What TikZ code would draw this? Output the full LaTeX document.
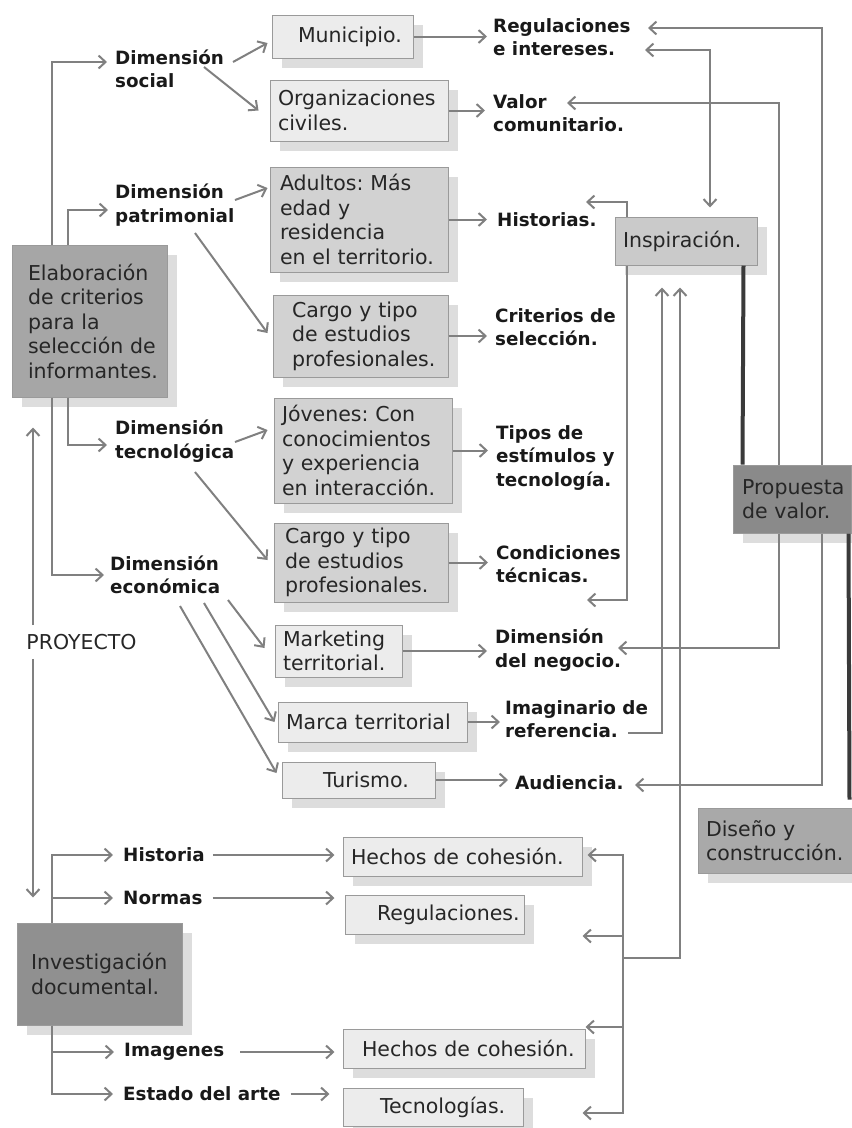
\documentclass[tikz,border=0pt]{standalone}
\usepackage{fontspec}
\setmainfont{DejaVu Sans}
\usetikzlibrary{arrows.meta,shadows,calc}
\hyphenpenalty=10000
\exhyphenpenalty=10000
\newcommand\boxfont{\fontsize{20.5}{24.5}\selectfont}
\newcommand\lblfont{\fontsize{18.3}{23.5}\selectfont\bfseries}
\definecolor{linec}{HTML}{808080}
\definecolor{thickc}{HTML}{3A3A3A}
\definecolor{lightf}{HTML}{ECECEC}
\definecolor{medf}{HTML}{D2D2D2}
\definecolor{inspf}{HTML}{CACACA}
\definecolor{elabf}{HTML}{A6A6A6}
\definecolor{invf}{HTML}{909090}
\definecolor{propf}{HTML}{8A8A8A}
\definecolor{disf}{HTML}{A9A9A9}
\definecolor{shadowc}{HTML}{DDDDDD}
\definecolor{borderc}{HTML}{9A9A9A}
\begin{document}
\begin{tikzpicture}[x=1pt,y=-1pt,
  bb/.tip={Straight Barb[length=7pt,width=13pt]},
  bx/.style={rectangle, draw=borderc, line width=1pt, align=left, inner ysep=0pt,
    font=\boxfont, text=black!85,
    drop shadow={shadow xshift=10pt, shadow yshift=-10pt, fill=shadowc, opacity=1}},
  lbl/.style={font=\lblfont, align=left, inner sep=0pt, anchor=west, text=black!90},
  rtxt/.style={font=\boxfont, inner xsep=2pt, inner ysep=9pt, text=black!85},
  conn/.style={draw=linec, line width=2pt, -bb},
  biconn/.style={draw=linec, line width=2pt, bb-bb},
  thickline/.style={draw=thickc, line width=4pt}]
\useasboundingbox (0,0) rectangle (852,1128);

% ---------- boxes ----------
\node[bx, fill=lightf, text width=89pt, inner xsep=26pt, minimum height=43pt] (mun) at (342.5,36.5) {Municipio.};
\node[bx, fill=lightf, text width=162pt, inner xsep=8pt, minimum height=61pt] (org) at (359,110.5) {Organizaciones\\civiles.};
\node[bx, fill=medf, text width=158pt, inner xsep=10pt, minimum height=105pt] (adu) at (359,219.5) {Adultos:~Más\\edad~y\\residencia\\en~el~territorio.};
\node[bx, fill=medf, text width=137pt, inner xsep=19pt, minimum height=82pt] (car1) at (360.5,336) {Cargo~y~tipo\\de~estudios\\profesionales.};
\node[bx, fill=medf, text width=162pt, inner xsep=8pt, minimum height=105pt] (jov) at (363,450.5) {Jóvenes:~Con\\conocimientos\\y~experiencia\\en~interacción.};
\node[bx, fill=medf, text width=152pt, inner xsep=11pt, minimum height=79pt] (car2) at (361,562.5) {Cargo~y~tipo\\de~estudios\\profesionales.};
\node[bx, fill=lightf, text width=111pt, inner xsep=8pt, minimum height=52pt] (mkt) at (338.5,651) {Marketing\\territorial.};
\node[bx, fill=lightf, text width=173pt, inner xsep=8pt, minimum height=40pt] (mar) at (372.5,722) {Marca~territorial};
\node[bx, fill=lightf, text width=71pt, inner xsep=41pt, minimum height=36pt] (tur) at (358.5,780) {Turismo.};
\node[bx, fill=elabf, text width=123pt, inner xsep=16pt, minimum height=152pt] (elab) at (89.5,321) {Elaboración\\de~criterios\\para~la\\selección~de\\informantes.};
\node[bx, fill=inspf, text width=126pt, inner xsep=8pt, minimum height=48pt] (insp) at (686,241) {Inspiración.};
\node[bx, fill=propf, text width=100pt, inner xsep=9pt, minimum height=68pt] (prop) at (792,499) {Propuesta\\de~valor.};
\node[bx, fill=disf, text width=138pt, inner xsep=8pt, minimum height=65pt] (dis) at (775,840.5) {Diseño~y\\construcción.};
\node[bx, fill=invf, text width=137pt, inner xsep=14pt, minimum height=102pt] (inv) at (99.5,974) {Investigación\\documental.};
\node[bx, fill=lightf, text width=223pt, inner xsep=8pt, minimum height=39pt] (hec1) at (462.5,856.5) {Hechos~de~cohesión.};
\node[bx, fill=lightf, text width=115pt, inner xsep=32pt, minimum height=39pt] (regu) at (434.5,914.5) {Regulaciones.};
\node[bx, fill=lightf, text width=204pt, inner xsep=19pt, minimum height=39pt] (hec2) at (464,1048.5) {Hechos~de~cohesión.};
\node[bx, fill=lightf, text width=106pt, inner xsep=37pt, minimum height=38pt] (tec) at (433,1107) {Tecnologías.};

% ---------- labels ----------
\node[lbl] (dsoc) at (115,69) {Dimensión\\social};
\node[lbl] (dpat) at (115,205) {Dimensión\\patrimonial};
\node[lbl] (dtec) at (115,441) {Dimensión\\tecnológica};
\node[lbl] (deco) at (110,575) {Dimensión\\económica};
\node[lbl] (reg) at (493,37) {Regulaciones\\e intereses.};
\node[lbl] (val) at (493,113) {Valor\\comunitario.};
\node[lbl] (his) at (497,220) {Historias.};
\node[lbl] (crit) at (495,327) {Criterios de\\selección.};
\node[lbl] (tipos) at (496,458) {Tipos de\\estímulos y\\tecnología.};
\node[lbl] (cond) at (496,564) {Condiciones\\técnicas.};
\node[lbl] (dneg) at (495,650) {Dimensión\\del negocio.};
\node[lbl] (imag) at (505,719) {Imaginario de\\referencia.};
\node[lbl] (aud) at (515,783) {Audiencia.};
\node[lbl] (historia) at (123,855) {Historia};
\node[lbl] (normas) at (123,898) {Normas};
\node[lbl] (imagenes) at (124,1052) {Imagenes};
\node[lbl] (estado) at (123,1094) {Estado del arte};
\node[rtxt] (proy) at (81.5,642) {PROYECTO};
\coordinate (pv) at (33,642);
\coordinate (jn) at (623,958);

% ---------- left tree ----------
\draw[conn] ($(elab.north west)+(40,0)$) |- ($(dsoc.west)+(-8,-7)$);
\draw[conn] ($(elab.north west)+(56,0)$) |- ($(dpat.west)+(-7,5)$);
\draw[conn] ($(elab.south west)+(56,0)$) |- ($(dtec.west)+(-8,4)$);
\draw[conn] ($(elab.south west)+(40,0)$) |- ($(deco.west)+(-6,0)$);

\draw[conn] ($(dsoc.west)+(118,-7)$) -- ($(mun.west)+(-4,6.5)$);
\draw[conn] ($(dsoc.west)+(89,-2)$) -- ($(org.west)+(-11,0)$);
\draw[conn] ($(dpat.west)+(120,-5)$) -- ($(adu.west)+(-2,-31.5)$);
\draw[conn] ($(dpat.west)+(80,28)$) -- ($(car1.west)+(-5,-3)$);
\draw[conn] ($(dtec.west)+(120,1)$) -- ($(jov.west)+(-6,-20.5)$);
\draw[conn] ($(dtec.west)+(80,31)$) -- ($(car2.west)+(-6,-2.5)$);
\draw[conn] ($(deco.west)+(118,25)$) -- ($(mkt.west)+(-10,-3)$);
\draw[conn] ($(deco.west)+(94,28)$) -- ($(mar.west)+(-3,0)$);
\draw[conn] ($(deco.west)+(70,31)$) -- ($(tur.west)+(-5,-7)$);

\draw[conn, shorten >=6pt] (mun.east) -- (mun.east -| reg.west);
\draw[conn, shorten >=8pt] (org.east) -- (org.east -| val.west);
\draw[conn, shorten >=10pt] (adu.east) -- (adu.east -| his.west);
\draw[conn, shorten >=8pt] (car1.east) -- (car1.east -| crit.west);
\draw[conn, shorten >=8pt] (jov.east) -- (jov.east -| tipos.west);
\draw[conn, shorten >=8pt] (car2.east) -- (car2.east -| cond.west);
\draw[conn, shorten >=8pt] (mkt.east) -- (mkt.east -| dneg.west);
\draw[conn, shorten >=5pt] (mar.east) -- (mar.east -| imag.west);
\draw[conn, shorten >=7pt] (tur.east) -- (tur.east -| aud.west);

% ---------- PROYECTO ----------
\draw[conn, shorten >=30pt] (proy.north -| pv) -- (elab.south -| pv);
\draw[conn, shorten >=25pt] (proy.south -| pv) -- (inv.north -| pv);

% ---------- lower tree ----------
\draw[conn] ($(inv.north west)+(35,0)$) |- ($(historia.west)+(-10,0)$);
\draw[conn] ($(inv.north west)+(35,0)$) |- ($(normas.west)+(-10,0)$);
\draw[conn] ($(inv.south west)+(35,0)$) |- ($(imagenes.west)+(-10,0)$);
\draw[conn] ($(inv.south west)+(35,0)$) |- ($(estado.west)+(-10,0)$);
\draw[conn, shorten <=8pt, shorten >=8pt] (historia.east) -- (historia.east -| hec1.west);
\draw[conn, shorten <=10pt, shorten >=10pt] (normas.east) -- (normas.east -| regu.west);
\draw[conn, shorten <=16pt, shorten >=8pt] (imagenes.east) -- (imagenes.east -| hec2.west);
\draw[conn, shorten <=10pt, shorten >=13pt] (estado.east) -- (estado.east -| tec.west);

% ---------- right side ----------
\draw[conn] ($(prop.north west)+(89,0)$) |- ($(reg.west)+(155,-9)$);
\draw[biconn] ($(reg.west)+(152,13)$) -| ($(insp.north)+(24,-9)$);
\draw[conn] ($(prop.north west)+(46,0)$) |- ($(val.west)+(74,-10)$);
\draw[conn] ($(insp.north west)+(12,0)$) |- ($(his.west)+(89,-18)$);
\draw[conn] ($(insp.south west)+(12,0)$) |- ($(cond.west)+(91,36)$);
\draw[thickline] ($(insp.south east)+(-14,0)$) -- ($(prop.north west)+(10,0)$);
\draw[conn] ($(prop.south west)+(46,0)$) |- ($(dneg.west)+(123,-2)$);
\draw[conn] ($(prop.south west)+(89,0)$) |- ($(aud.west)+(120,2)$);
\draw[thickline] ($(prop.south east)+(-3,0)$) -- ($(dis.north east)+(-3,-8)$);
\draw[conn] ($(imag.west)+(123,14)$) -| ($(insp.south)+(-24,22)$);
\draw[conn] (jn) -| ($(insp.south)+(-6,22)$);
\draw[conn] (jn) |- ($(hec1.east)+(5,-1.5)$);
\draw[conn] (jn) |- ($(regu.east)+(58,21.5)$);
\draw[conn] (jn) |- ($(hec2.east)+(0,-21.5)$);
\draw[conn] (jn) |- ($(tec.east)+(59,6)$);
\end{tikzpicture}
\end{document}
